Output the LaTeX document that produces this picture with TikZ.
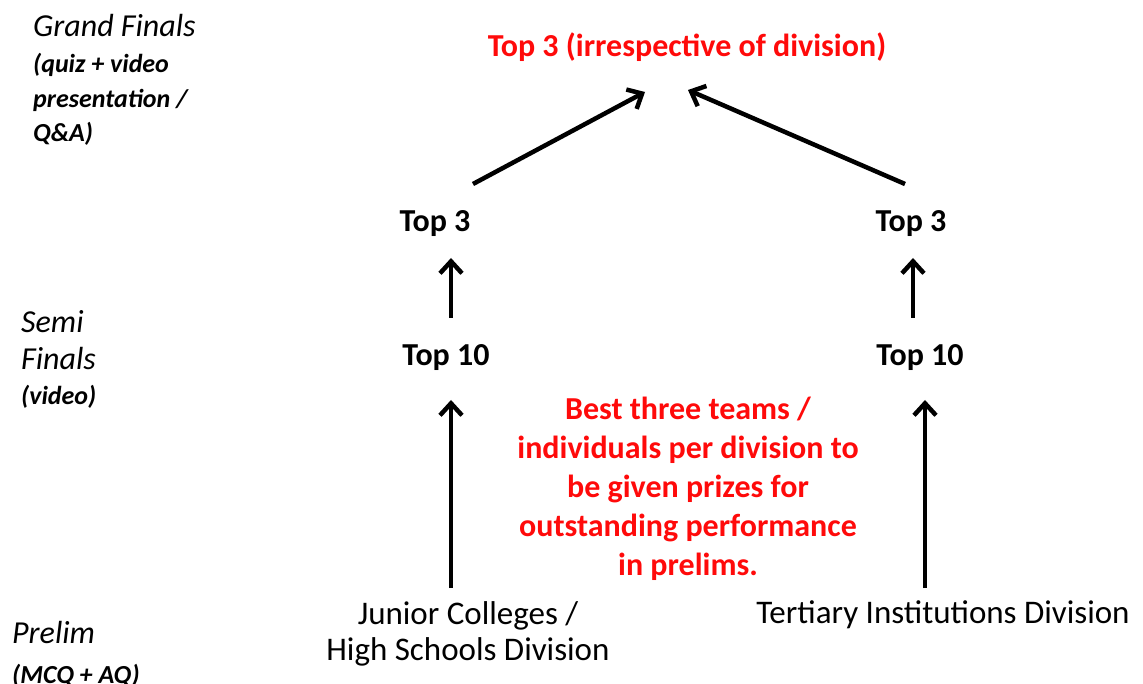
\documentclass[tikz,border=0pt]{standalone}
\usepackage{fontspec}
\setmainfont{Carlito}
\usetikzlibrary{arrows.meta,calc}
\definecolor{noteRed}{RGB}{255,10,10}
\begin{document}
\begin{tikzpicture}[x=1pt,y=-1pt,
  lbl/.style={font=\fontsize{32}{40}\selectfont\bfseries, inner sep=0pt, anchor=base},
  redlbl/.style={lbl, text=noteRed},
  stagebig/.style={font=\fontsize{32}{36}\selectfont\itshape, inner sep=0pt, anchor=base west},
  stagesmall/.style={font=\fontsize{26}{35}\selectfont\bfseries\itshape, inner sep=0pt, anchor=base west},
  div/.style={font=\fontsize{33}{36}\selectfont, inner sep=0pt, anchor=base, align=center},
  arr/.style={line width=4.5pt, -{Straight Barb[length=12pt,width=22pt,line width=4.5pt]}}
]
\useasboundingbox (0,0) rectangle (1143,684);
% stage labels
\node[stagebig] (gf) at (33,37) {Grand Finals};
\node[stagesmall] (gf1) at (33,73) {(quiz + video};
\node[stagesmall] (gf2) at (33,108) {presentation /};
\node[stagesmall] (gf3) at (33,142) {Q\&A)};
\node[stagebig] (sf) at (21,333) {Semi};
\node[stagebig] (sf1) at (21,370) {Finals};
\node[stagesmall] (sf2) at (21,405) {(video)};
\node[stagebig] (pr) at (12,643) {Prelim};
\node[stagesmall] (pr1) at (12,683) {(MCQ + AQ)};
% main nodes
\node[redlbl] (top) at (687,57) {Top 3 (irrespective of division)};
\node[lbl] (t3l) at (435,232) {Top 3};
\node[lbl] (t3r) at (911,232) {Top 3};
\node[lbl] (t10l) at (446,366) {Top 10};
\node[lbl] (t10r) at (920,366) {Top 10};
\node[div] (jc) at (468,660) {Junior Colleges /\\High Schools Division};
\node[div] (ti) at (943,623) {Tertiary Institutions Division};
\node[redlbl, align=center, font=\fontsize{32}{39}\selectfont\bfseries] (note) at (688,575)
  {Best three teams /\\individuals per division to\\be given prizes for\\outstanding performance\\in prelims.};
% arrows
\draw[arr] ($(jc.base -| t10l.base)+(5,-72)$) -- ($(t10l.base)+(5,34)$);
\draw[arr] ($(ti.base -| t10r.base)+(5,-35)$) -- ($(t10r.base)+(5,34)$);
\draw[arr] ($(t10l.base)+(5,-48)$) -- ($(t10l.base |- t3l.base)+(5,26)$);
\draw[arr] ($(t10r.base)+(-7,-48)$) -- ($(t10r.base |- t3r.base)+(-7,26)$);
\draw[arr] ($(t3l.base)+(38,-48)$) -- ($(top.base)+(-42,35)$);
\draw[arr] ($(t3r.base)+(-6,-48)$) -- ($(top.base)+(1,33)$);
\end{tikzpicture}
\end{document}
